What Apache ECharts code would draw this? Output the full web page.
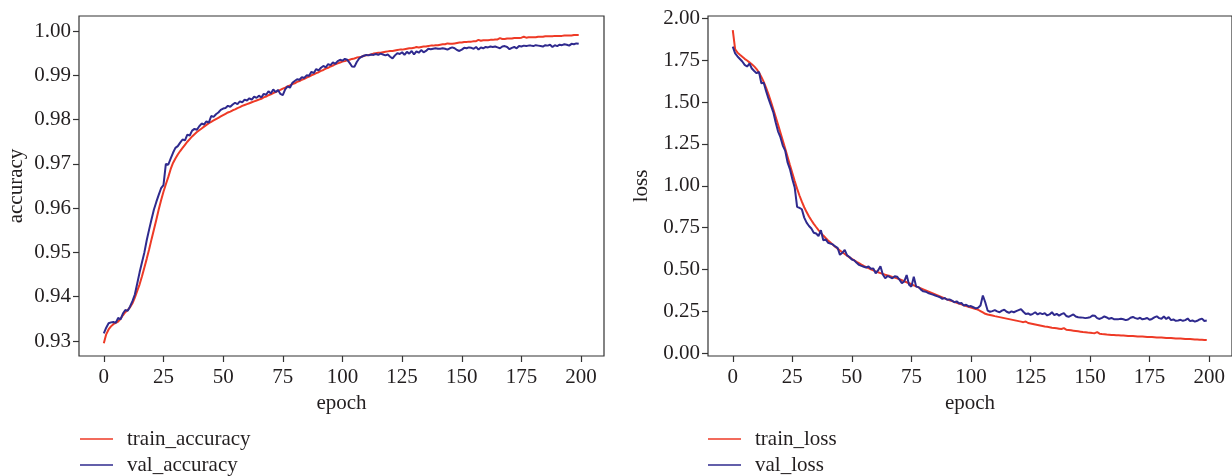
<!DOCTYPE html>
<html>
<head>
<meta charset="utf-8">
<script src="https://cdn.jsdelivr.net/npm/echarts@6/dist/echarts.min.js"></script>
<style>
html,body{margin:0;padding:0;background:#fff;}
#chart{width:1232px;height:476px;}
</style>
</head>
<body>
<div id="chart"></div>
<script>
const xTicks = [0, 25, 50, 75, 100, 125, 150, 175, 200];
const accTicks = [0.93, 0.94, 0.95, 0.96, 0.97, 0.98, 0.99, 1.00];
const lossTicks = [0.00, 0.25, 0.50, 0.75, 1.00, 1.25, 1.50, 1.75, 2.00];

const trainAccuracy = [
.9295,.9315,.9326,.9333,.9338,.9341,.9344,.9350,.9358,.9365,
.9370,.9376,.9385,.9398,.9413,.9428,.9446,.9466,.9486,.9507,
.9530,.9552,.9574,.9597,.9618,.9637,.9654,.9670,.9688,.9702,
.9712,.9721,.9729,.9736,.9743,.9750,.9756,.9762,.9767,.9772,
.9776,.9780,.9784,.9788,.9792,.9795,.9798,.9801,.9804,.9807,
.9810,.9813,.9816,.9818,.9821,.9823,.9826,.9828,.9831,.9833,
.9835,.9837,.9839,.9841,.9843,.9845,.9847,.9850,.9852,.9855,
.9857,.9860,.9862,.9865,.9867,.9870,.9872,.9875,.9877,.9880,
.9882,.9885,.9887,.9890,.9892,.9895,.9897,.9900,.9902,.9905,
.9907,.9910,.9912,.9915,.9917,.9920,.9922,.9925,.9927,.9929,
.9931,.9932,.9934,.9935,.9937,.9938,.9940,.9941,.9942,.9944,
.9945,.9946,.9947,.9949,.9950,.9951,.9951,.9952,.9953,.9954,
.9955,.9955,.9956,.9957,.9958,.9958,.9959,.9960,.9961,.9961,
.9962,.9964,.9963,.9964,.9965,.9965,.9966,.9967,.9967,.9968,
.9968,.9969,.9970,.9970,.9972,.9971,.9971,.9972,.9973,.9974,
.9974,.9975,.9975,.9976,.9976,.9977,.9977,.9980,.9978,.9979,
.9979,.9979,.9980,.9980,.9981,.9981,.9984,.9982,.9982,.9983,
.9983,.9983,.9984,.9984,.9984,.9985,.9987,.9985,.9986,.9986,
.9986,.9986,.9987,.9987,.9987,.9988,.9988,.9988,.9988,.9989,
.9989,.9989,.9989,.9990,.9990,.9990,.9990,.9991,.9991,.9991
];

const valAccuracy = [
.9317,.9330,.9340,.9342,.9343,.9341,.9352,.9349,.9362,.9370,
.9368,.9378,.9390,.9405,.9430,.9455,.9478,.9500,.9528,.9552,
.9575,.9597,.9614,.9630,.9645,.9652,.9700,.9698,.9712,.9725,
.9736,.9740,.9748,.9755,.9753,.9766,.9764,.9775,.9779,.9777,
.9785,.9791,.9789,.9796,.9793,.9808,.9806,.9812,.9816,.9822,
.9825,.9826,.9831,.9829,.9834,.9838,.9835,.9841,.9839,.9845,
.9843,.9848,.9845,.9852,.9849,.9854,.9850,.9858,.9856,.9864,
.9859,.9868,.9862,.9867,.9858,.9855,.9868,.9875,.9872,.9883,
.9887,.9891,.9890,.9896,.9894,.9900,.9899,.9908,.9905,.9914,
.9911,.9917,.9921,.9918,.9925,.9923,.9929,.9926,.9932,.9935,
.9933,.9937,.9935,.9928,.9920,.9919,.9930,.9938,.9942,.9944,
.9946,.9945,.9947,.9946,.9948,.9946,.9949,.9947,.9945,.9947,
.9942,.9938,.9945,.9950,.9948,.9952,.9946,.9953,.9949,.9955,
.9947,.9954,.9951,.9957,.9952,.9955,.9960,.9959,.9960,.9961,
.9960,.9960,.9961,.9960,.9958,.9961,.9963,.9961,.9957,.9955,
.9958,.9962,.9961,.9963,.9962,.9960,.9964,.9958,.9963,.9961,
.9964,.9963,.9965,.9964,.9965,.9963,.9961,.9965,.9966,.9964,
.9959,.9962,.9964,.9961,.9966,.9965,.9967,.9966,.9967,.9967,
.9966,.9968,.9967,.9966,.9965,.9968,.9967,.9969,.9964,.9968,
.9966,.9969,.9968,.9970,.9969,.9967,.9971,.9970,.9972,.9971
];

const trainLoss = [
1.930,1.815,1.795,1.782,1.770,1.758,1.748,1.737,1.726,1.713,
1.697,1.676,1.650,1.620,1.585,1.546,1.503,1.458,1.412,1.365,
1.318,1.270,1.222,1.173,1.124,1.076,1.028,0.983,0.942,0.905,
0.872,0.843,0.817,0.794,0.773,0.754,0.736,0.719,0.703,0.688,
0.674,0.661,0.648,0.636,0.625,0.614,0.603,0.593,0.583,0.573,
0.564,0.555,0.546,0.538,0.530,0.522,0.515,0.508,0.501,0.495,
0.489,0.484,0.479,0.474,0.469,0.465,0.461,0.456,0.452,0.447,
0.442,0.436,0.430,0.424,0.418,0.412,0.406,0.400,0.394,0.388,
0.382,0.376,0.370,0.364,0.358,0.352,0.346,0.340,0.334,0.328,
0.322,0.317,0.312,0.307,0.302,0.297,0.292,0.287,0.282,0.278,
0.273,0.269,0.265,0.260,0.252,0.244,0.236,0.232,0.229,0.226,
0.222,0.219,0.216,0.213,0.210,0.207,0.204,0.201,0.198,0.195,
0.192,0.189,0.186,0.190,0.181,0.178,0.175,0.172,0.169,0.166,
0.163,0.160,0.158,0.156,0.153,0.151,0.149,0.147,0.145,0.150,
0.141,0.139,0.137,0.135,0.133,0.131,0.129,0.127,0.126,0.124,
0.123,0.121,0.120,0.126,0.117,0.115,0.114,0.112,0.111,0.110,
0.109,0.108,0.108,0.107,0.106,0.105,0.104,0.104,0.103,0.102,
0.101,0.101,0.100,0.099,0.098,0.098,0.097,0.096,0.095,0.095,
0.094,0.093,0.092,0.092,0.091,0.090,0.089,0.089,0.088,0.087,
0.086,0.085,0.085,0.084,0.083,0.082,0.081,0.081,0.080,0.079
];

const valLoss = [
1.831,1.790,1.772,1.757,1.742,1.722,1.712,1.730,1.700,1.685,
1.672,1.680,1.612,1.615,1.565,1.520,1.480,1.440,1.380,1.325,
1.290,1.240,1.210,1.140,1.100,1.040,0.990,0.875,0.868,0.860,
0.810,0.780,0.760,0.745,0.720,0.715,0.700,0.735,0.675,0.680,
0.660,0.655,0.650,0.638,0.630,0.588,0.600,0.617,0.585,0.575,
0.560,0.555,0.540,0.528,0.522,0.517,0.512,0.518,0.505,0.507,
0.478,0.495,0.520,0.470,0.448,0.462,0.455,0.448,0.460,0.457,
0.440,0.418,0.430,0.467,0.410,0.398,0.457,0.398,0.395,0.380,
0.370,0.368,0.360,0.355,0.350,0.345,0.340,0.335,0.325,0.330,
0.320,0.322,0.315,0.305,0.310,0.298,0.300,0.285,0.290,0.280,
0.282,0.275,0.268,0.272,0.285,0.345,0.305,0.255,0.248,0.252,
0.258,0.250,0.245,0.255,0.260,0.248,0.242,0.250,0.245,0.252,
0.258,0.264,0.248,0.235,0.238,0.229,0.236,0.245,0.232,0.240,
0.234,0.239,0.226,0.232,0.245,0.228,0.236,0.225,0.234,0.240,
0.223,0.218,0.225,0.232,0.220,0.215,0.214,0.213,0.210,0.212,
0.215,0.225,0.224,0.210,0.205,0.212,0.220,0.214,0.206,0.211,
0.204,0.203,0.204,0.206,0.203,0.198,0.202,0.212,0.217,0.210,
0.206,0.212,0.203,0.206,0.211,0.200,0.205,0.214,0.221,0.210,
0.206,0.220,0.205,0.216,0.198,0.202,0.194,0.196,0.200,0.194,
0.198,0.208,0.192,0.196,0.189,0.194,0.202,0.207,0.193,0.196
];

const epochs = trainAccuracy.map((_, i) => i);
const pairs = arr => arr.map((v, i) => [epochs[i], v]);

const RED = '#ee3a26';
const BLUE = '#2f2a8e';
const FONT = 'Liberation Serif';
const TXT = '#231f20';
const AX = '#333333';

function xAxisCfg(gridIndex) {
  return {
    type: 'value', gridIndex: gridIndex, min: -10.4, max: 209.6,
    name: 'epoch', nameLocation: 'middle', nameGap: 37,
    nameTextStyle: {fontFamily: FONT, fontSize: 21, color: TXT},
    axisLine: {show: false, onZero: false},
    axisTick: {show: true, length: 6, lineStyle: {color: AX, width: 1.2}, customValues: xTicks},
    axisLabel: {fontFamily: FONT, fontSize: 21, color: TXT, margin: 11, customValues: xTicks},
    splitLine: {show: false}
  };
}
function yAxisCfg(gridIndex, name, min, max, ticks, gap) {
  return {
    type: 'value', gridIndex: gridIndex, min: min, max: max,
    name: name, nameLocation: 'middle', nameGap: gap,
    nameTextStyle: {fontFamily: FONT, fontSize: 21, color: TXT},
    axisLine: {show: false, onZero: false},
    axisTick: {show: true, length: 6, lineStyle: {color: AX, width: 1.2}, customValues: ticks},
    axisLabel: {fontFamily: FONT, fontSize: 21, color: TXT, margin: 8, customValues: ticks,
      formatter: v => Number(v).toFixed(2)},
    splitLine: {show: false}
  };
}
function legendCfg(left, names) {
  return {
    orient: 'vertical', left: left, top: 428.5, padding: 0,
    icon: 'rect', itemWidth: 33, itemHeight: 1.6, itemGap: 5,
    data: names,
    textStyle: {fontFamily: FONT, fontSize: 21, color: TXT, lineHeight: 21, padding: [0, 0, 0, 9]}
  };
}
function line(name, xi, yi, data, color) {
  return {
    name: name, type: 'line', xAxisIndex: xi, yAxisIndex: yi,
    data: pairs(data), showSymbol: false, symbol: 'none',
    lineStyle: {color: color, width: 2}, itemStyle: {color: color},
    z: name.startsWith('val') ? 3 : 2
  };
}

const chart = echarts.init(document.getElementById('chart'), null, {renderer: 'canvas'});
chart.setOption({
  animation: false,
  backgroundColor: '#ffffff',
  grid: [
    {left: 79, top: 16, width: 525, height: 340, show: true, borderColor: AX, borderWidth: 1.2, backgroundColor: 'transparent'},
    {left: 708, top: 16, width: 525, height: 340, show: true, borderColor: AX, borderWidth: 1.2, backgroundColor: 'transparent'}
  ],
  xAxis: [xAxisCfg(0), xAxisCfg(1)],
  yAxis: [
    yAxisCfg(0, 'accuracy', 0.92661, 1.00339, accTicks, 52),
    yAxisCfg(1, 'loss', -0.0161, 2.0137, lossTicks, 56)
  ],
  legend: [
    legendCfg(80, ['train_accuracy', 'val_accuracy']),
    legendCfg(708, ['train_loss', 'val_loss'])
  ],
  series: [
    line('train_accuracy', 0, 0, trainAccuracy, RED),
    line('val_accuracy', 0, 0, valAccuracy, BLUE),
    line('train_loss', 1, 1, trainLoss, RED),
    line('val_loss', 1, 1, valLoss, BLUE)
  ]
});
</script>
</body>
</html>
